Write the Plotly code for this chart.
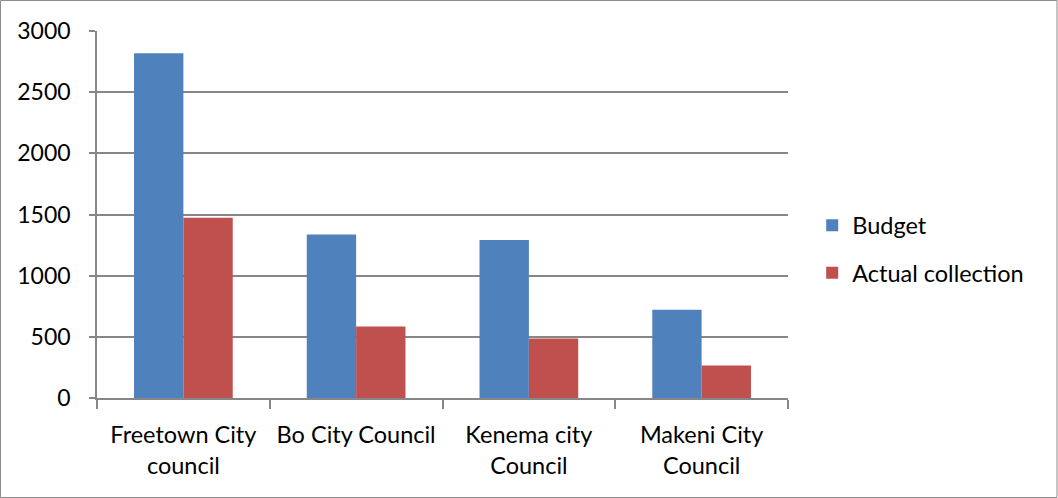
import plotly.graph_objects as go

categories = ["Freetown City<br>council", "Bo City Council", "Kenema city<br>Council", "Makeni City<br>Council"]
budget = [2818, 1337, 1292, 721]
actual = [1474, 584, 487, 265]
y_ticks = [0, 500, 1000, 1500, 2000, 2500, 3000]

FONT = "Lato, 'Open Sans', sans-serif"
GRID = "#878787"

fig = go.Figure()
fig.add_trace(go.Bar(x=categories, y=budget, name="Budget", marker=dict(color="#4F81BD", line=dict(width=0)), legendgroup="a"))
fig.add_trace(go.Bar(x=categories, y=actual, name="Actual collection", marker=dict(color="#C0504D", line=dict(width=0)), legendgroup="b"))

fig.update_layout(
    width=1058, height=498,
    margin=dict(l=97, r=270, t=31, b=100),
    paper_bgcolor="white", plot_bgcolor="white",
    barmode="group", bargap=0.4286, bargroupgap=0,
    font=dict(family=FONT, size=23, color="black"),
    showlegend=True,
    legend=dict(x=1.035, xanchor="left", y=0.405, yanchor="middle",
                font=dict(family=FONT, size=23.5, color="black"),
                traceorder="grouped", tracegroupgap=14, itemwidth=30,
                bgcolor="rgba(0,0,0,0)"),
    xaxis=dict(showline=True, linecolor=GRID, linewidth=1.6, ticks="outside",
               ticklen=9, tickcolor=GRID, tickwidth=1.6, tickson="boundaries", showgrid=False,
               ticklabelstandoff=15,
               tickfont=dict(family=FONT, size=23.5), fixedrange=True),
    yaxis=dict(range=[0, 3000], tickvals=y_ticks, showline=True, linecolor=GRID, linewidth=1.6,
               ticks="outside", ticklen=6, tickcolor=GRID, tickwidth=1.6, showgrid=True, gridcolor=GRID,
               gridwidth=1.6, zeroline=False, ticklabelstandoff=14,
               tickfont=dict(family=FONT, size=23), fixedrange=True),
    shapes=[dict(type="rect", xref="paper", yref="paper", x0=-96.5/691, x1=(1057-97)/691,
                 y0=-99.5/367, y1=(497.5-100)/367, line=dict(color="#8C8C8C", width=1))],
)
fig.write_html("out.html")
